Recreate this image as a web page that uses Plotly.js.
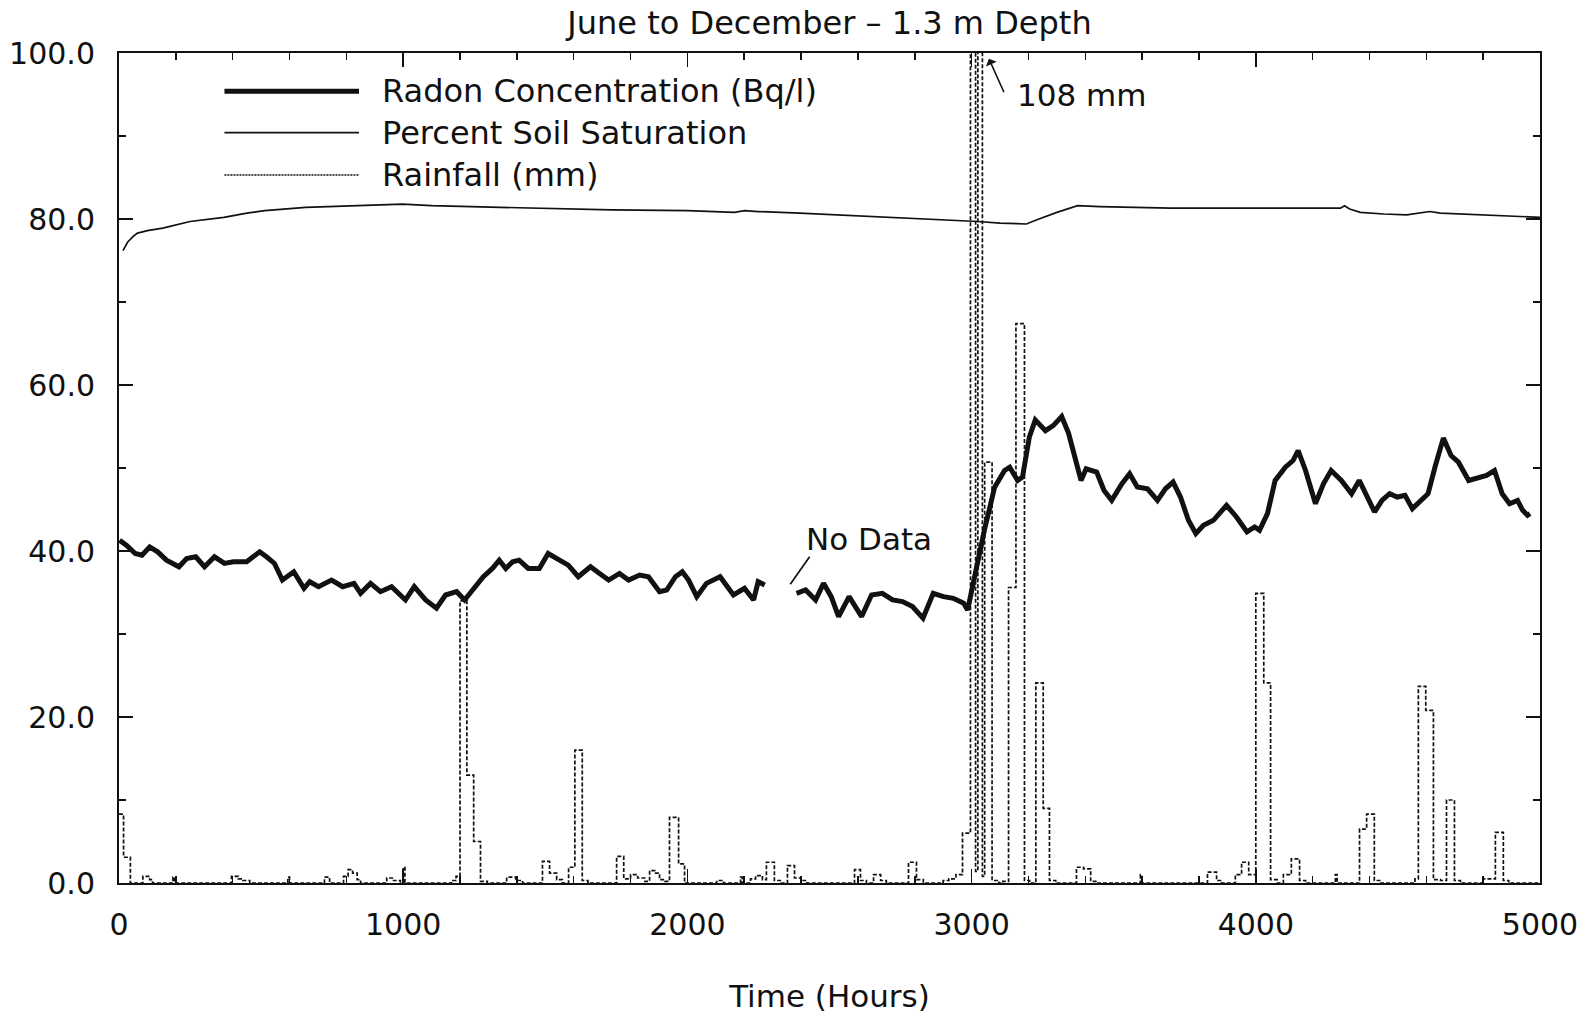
<!DOCTYPE html>
<html>
<head>
<meta charset="utf-8">
<script src="https://cdn.plot.ly/plotly-3.0.1.min.js"></script>
<style>html,body{margin:0;padding:0;background:#fff;}#chart{width:1586px;height:1017px;}</style>
</head>
<body>
<div id="chart"></div>
<script>
// ---- Radon concentration (Bq/l), segment before the "No Data" gap ----
const radonHours1 = [2, 26, 57, 81, 108, 136, 167, 211, 238, 270,
  301, 336, 371, 403, 449, 495, 519, 547, 575, 615,
  651, 671, 702, 748, 787, 827, 850, 885, 920, 959,
  1008, 1039, 1079, 1117, 1149, 1188, 1216, 1250, 1282, 1314,
  1338, 1361, 1385, 1408, 1440, 1479, 1510, 1550, 1581, 1616,
  1659, 1691, 1723, 1761, 1793, 1832, 1863, 1902, 1927, 1958,
  1982, 2004, 2033, 2067, 2115, 2162, 2201, 2233, 2249, 2272];
const radonValues1 = [41.3, 40.7, 39.7, 39.5, 40.5, 39.9, 38.9, 38.1, 39.1, 39.3,
  38.1, 39.3, 38.5, 38.7, 38.7, 39.9, 39.3, 38.5, 36.5, 37.5,
  35.5, 36.3, 35.7, 36.5, 35.7, 36.1, 34.9, 36.1, 35.1, 35.7,
  34.1, 35.7, 34.1, 33.1, 34.7, 35.1, 34.1, 35.5, 36.9, 37.9,
  38.9, 37.9, 38.7, 38.9, 37.9, 37.9, 39.7, 38.9, 38.3, 36.9,
  38.1, 37.3, 36.5, 37.3, 36.5, 37.1, 36.9, 35.1, 35.3, 36.9,
  37.5, 36.5, 34.5, 36.1, 36.9, 34.7, 35.5, 34.1, 36.3, 35.9];

// ---- Radon concentration, segment after the gap ----
const radonHours2 = [2384, 2416, 2451, 2479, 2506, 2532, 2569, 2613, 2648, 2686,
  2722, 2757, 2792, 2829, 2865, 2901, 2936, 2972, 2986, 3009,
  3045, 3081, 3116, 3134, 3162, 3179, 3203, 3224, 3260, 3287,
  3317, 3341, 3368, 3385, 3403, 3440, 3466, 3493, 3529, 3556,
  3583, 3619, 3654, 3682, 3709, 3735, 3763, 3789, 3816, 3851,
  3897, 3932, 3969, 3996, 4013, 4041, 4068, 4104, 4131, 4149,
  4175, 4210, 4238, 4265, 4301, 4337, 4364, 4390, 4418, 4444,
  4471, 4498, 4525, 4551, 4580, 4606, 4632, 4660, 4687, 4713,
  4749, 4786, 4812, 4840, 4867, 4893, 4921, 4939, 4956, 4965];
const radonValues2 = [34.9, 35.3, 34.1, 36.1, 34.5, 32.1, 34.5, 32.1, 34.7, 34.9,
  34.1, 33.9, 33.3, 31.9, 34.9, 34.5, 34.3, 33.7, 32.9, 36.9,
  42.5, 47.7, 49.7, 50.1, 48.5, 48.9, 53.7, 55.8, 54.5, 55.1,
  56.2, 54.2, 50.5, 48.5, 49.9, 49.5, 47.3, 46.1, 48.1, 49.3,
  47.7, 47.5, 46.1, 47.5, 48.3, 46.5, 43.7, 42.1, 43.1, 43.7,
  45.5, 44.1, 42.3, 42.9, 42.5, 44.5, 48.5, 50.1, 50.9, 52.1,
  49.7, 45.7, 48.1, 49.7, 48.5, 46.9, 48.5, 46.5, 44.7, 46.1,
  46.9, 46.5, 46.7, 45.1, 46.1, 46.9, 50.3, 53.6, 51.5, 50.7,
  48.5, 48.9, 49.1, 49.7, 46.9, 45.7, 46.1, 44.9, 44.3, 44.5];

// ---- Percent soil saturation ----
const satHours = [14, 30, 50, 65, 100, 154, 250, 369, 450, 513,
  657, 800, 998, 1100, 1375, 1734, 2000, 2130, 2166, 2201,
  2250, 2395, 2600, 2800, 3021, 3100, 3193, 3230, 3300, 3373,
  3450, 3700, 4000, 4270, 4298, 4312, 4330, 4368, 4450, 4531,
  4575, 4612, 4650, 4800, 5000];
const satValues = [76.2, 77.2, 77.9, 78.3, 78.6, 78.9, 79.7, 80.2, 80.7, 81.0,
  81.4, 81.6, 81.8, 81.6, 81.4, 81.1, 81.0, 80.8, 80.8, 81.0,
  80.9, 80.7, 80.4, 80.1, 79.7, 79.5, 79.4, 79.9, 80.8, 81.6,
  81.5, 81.3, 81.3, 81.3, 81.3, 81.6, 81.2, 80.8, 80.6, 80.5,
  80.7, 80.9, 80.7, 80.5, 80.2];

// ---- Rainfall (mm): step start hour and amount ----
const rainStart = [0, 16, 40, 84, 108, 118, 190, 196, 396, 420,
  436, 460, 594, 600, 723, 741, 790, 806, 822, 838,
  850, 942, 966, 990, 1000, 1006, 1170, 1186, 1200, 1224,
  1248, 1272, 1296, 1364, 1396, 1420, 1490, 1515, 1540, 1560,
  1582, 1604, 1630, 1650, 1751, 1776, 1800, 1825, 1850, 1867,
  1885, 1902, 1920, 1937, 1969, 1990, 2103, 2127, 2187, 2193,
  2222, 2240, 2264, 2278, 2306, 2330, 2352, 2377, 2400, 2420,
  2588, 2609, 2630, 2655, 2680, 2700, 2778, 2806, 2830, 2900,
  2920, 2945, 2968, 2996, 3014, 3022, 3038, 3046, 3072, 3096,
  3110, 3130, 3156, 3186, 3204, 3226, 3252, 3274, 3296, 3369,
  3394, 3419, 3440, 3594, 3598, 3830, 3862, 3880, 3928, 3950,
  3975, 4000, 4028, 4052, 4075, 4097, 4125, 4154, 4175, 4280,
  4286, 4365, 4390, 4417, 4440, 4560, 4572, 4598, 4625, 4650,
  4671, 4699, 4720, 4800, 4820, 4843, 4871, 4890, 5000];
const rainMm = [8.3, 3.1, 0, 0.8, 0.4, 0, 0.7, 0, 0.8, 0.5,
  0.3, 0, 0.7, 0, 0.7, 0, 0.8, 1.6, 1.2, 0.4,
  0, 0.6, 0.3, 0, 1.9, 0, 0.3, 0.8, 34.0, 13.0,
  5.0, 0.2, 0, 0.7, 0.3, 0, 2.6, 1.2, 0.4, 0,
  1.9, 16.0, 0.3, 0, 3.2, 0.5, 1.0, 0.6, 0.2, 1.5,
  1.2, 0.4, 0.2, 7.9, 2.3, 0, 0.3, 0, 0.7, 0,
  0.5, 0.9, 0.4, 2.5, 0.3, 0, 2.1, 0.6, 0.3, 0,
  1.6, 0.3, 0, 1.0, 0.3, 0, 2.5, 0.4, 0, 0.3,
  0.5, 1.0, 6.0, 103, 1.4, 108, 0.8, 50.7, 0.3, 0,
  0.2, 35.6, 67.4, 0.3, 0, 24.1, 9.0, 0.3, 0, 1.9,
  1.7, 0.2, 0, 1.0, 0, 1.3, 0.3, 0, 1.0, 2.5,
  1.0, 34.9, 24.1, 0.4, 0, 1.0, 2.9, 0.3, 0, 1.0,
  0, 6.5, 8.3, 0.3, 0, 0.5, 23.7, 20.8, 0.4, 0.3,
  10.0, 0.3, 0, 0.5, 0.5, 6.1, 0.3, 0, 0];

const xTickVals = [0, 1000, 2000, 3000, 4000, 5000];
const yTickVals = [0, 20, 40, 60, 80, 100];
const seriesNames = ['Radon Concentration (Bq/l)', 'Percent Soil Saturation', 'Rainfall (mm)'];

const INK = '#111111';
const FONT = 'DejaVu Sans, Verdana, sans-serif';

const radonX = radonHours1.concat([null], radonHours2);
const radonY = radonValues1.concat([null], radonValues2);

const RAIN_DASH = '4px,2px';

const traces = [
  {x: rainStart, y: rainMm, type: 'scatter', mode: 'lines', name: seriesNames[2],
   line: {shape: 'hv', color: INK, width: 1.7, dash: RAIN_DASH}},
  {x: satHours, y: satValues, type: 'scatter', mode: 'lines', name: seriesNames[1],
   line: {color: INK, width: 1.7}},
  {x: radonX, y: radonY, type: 'scatter', mode: 'lines', name: seriesNames[0],
   connectgaps: false, line: {color: INK, width: 5, join: 'miter'}}
];

const axisCommon = {
  showline: true, linewidth: 2, linecolor: INK, mirror: 'ticks',
  ticks: 'inside', ticklen: 14, tickwidth: 1.5, tickcolor: INK,
  showgrid: false, zeroline: false, automargin: false,
  tickfont: {family: FONT, size: 30, color: INK}
};

const legendRows = [0.954, 0.904, 0.853];
const legendLineStyles = [
  {color: INK, width: 5},
  {color: INK, width: 1.7},
  {color: INK, width: 1.5, dash: '2px,1px'}
];

const shapes = [
  {type: 'line', xref: 'x', yref: 'y', x0: 2362, y0: 36.0, x1: 2430, y1: 39.3,
   line: {color: INK, width: 1.7}}
];
legendRows.forEach((yy, i) => shapes.push({
  type: 'line', xref: 'paper', yref: 'paper', x0: 0.0742, x1: 0.1689, y0: yy, y1: yy,
  line: legendLineStyles[i]
}));

const annotations = [
  {x: 2412, y: 41.4, xref: 'x', yref: 'y', text: 'No Data', showarrow: false,
   xanchor: 'left', yanchor: 'middle', font: {family: FONT, size: 31, color: INK}},
  {x: 3151, y: 94.9, xref: 'x', yref: 'y', text: '108 mm', showarrow: false,
   xanchor: 'left', yanchor: 'middle', font: {family: FONT, size: 31, color: INK}},
  {x: 3061, y: 99.3, xref: 'x', yref: 'y', ax: 3116, ay: 95.1, axref: 'x', ayref: 'y',
   text: '', showarrow: true, arrowhead: 1, arrowsize: 1.3, arrowwidth: 1.5, arrowcolor: INK}
];
legendRows.forEach((yy, i) => annotations.push({
  xref: 'paper', yref: 'paper', x: 0.1837, y: yy, text: seriesNames[i], showarrow: false,
  xanchor: 'left', yanchor: 'middle', font: {family: FONT, size: 32, color: INK}
}));

const layout = {
  width: 1586, height: 1017,
  margin: {l: 119, r: 46, t: 53, b: 134, pad: 0},
  paper_bgcolor: '#ffffff', plot_bgcolor: '#ffffff',
  font: {family: FONT, color: INK, size: 30},
  showlegend: false,
  title: {text: 'June to December \u2013 1.3 m Depth', font: {family: FONT, size: 32, color: INK},
          x: 0.5, xref: 'paper', xanchor: 'center', y: 0.978, yref: 'container', yanchor: 'middle'},
  xaxis: Object.assign({}, axisCommon, {
    range: [0, 5000], tickmode: 'array', tickvals: xTickVals, ticktext: xTickVals.map(String),
    ticklabelstandoff: 14,
    minor: {dtick: 200, tick0: 0, ticks: 'inside', ticklen: 7, tickwidth: 1.5, tickcolor: INK, showgrid: false},
    title: {text: 'Time (Hours)', font: {family: FONT, size: 31, color: INK}, standoff: 44}
  }),
  yaxis: Object.assign({}, axisCommon, {
    range: [0, 100], tickmode: 'array', tickvals: yTickVals, ticktext: yTickVals.map(v => v.toFixed(1)),
    ticklabelstandoff: 16,
    minor: {dtick: 10, tick0: 0, ticks: 'inside', ticklen: 7, tickwidth: 1.5, tickcolor: INK, showgrid: false}
  }),
  shapes: shapes,
  annotations: annotations
};

Plotly.newPlot('chart', traces, layout, {staticPlot: true, displayModeBar: false});
</script>
</body>
</html>
